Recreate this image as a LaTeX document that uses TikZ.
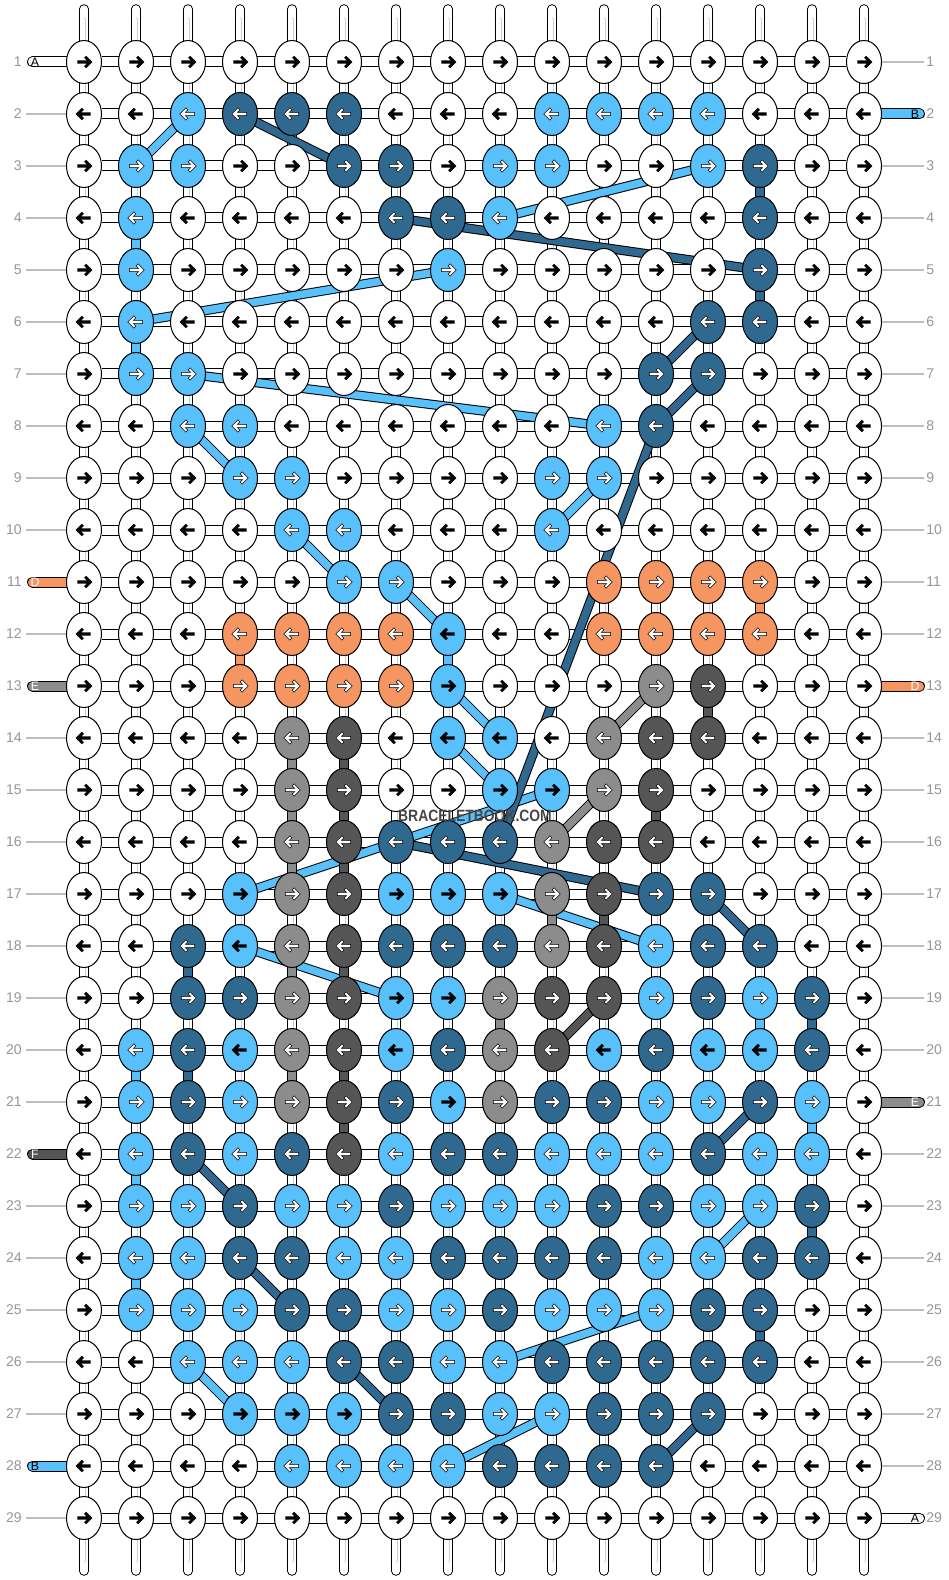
\documentclass[tikz,border=0pt]{standalone}
\usepackage{fontspec}
\setmainfont{Liberation Sans}
\usetikzlibrary{shapes.geometric}
\definecolor{BBwhite}{RGB}{255,255,255}
\definecolor{BBlight}{RGB}{88,192,250}
\definecolor{BBdark}{RGB}{47,105,143}
\definecolor{BBorange}{RGB}{244,149,98}
\definecolor{BBgray}{RGB}{140,140,140}
\definecolor{BBcoal}{RGB}{85,85,85}
\definecolor{BBlabel}{RGB}{150,150,150}
\definecolor{BBline}{RGB}{190,190,190}
\definecolor{BBinner}{RGB}{205,205,205}
\definecolor{BBmark}{RGB}{70,70,70}
\pgfdeclarelayer{strings}
\pgfdeclarelayer{threads}
\pgfsetlayers{strings,threads,main}
\tikzset{
  knot/.style={ellipse, draw=black, line width=0.2mm, minimum width=7mm, minimum height=8.6mm, inner sep=0pt},
  kW/.style={fill=BBwhite}, kL/.style={fill=BBlight}, kl/.style={fill=BBlight},
  kB/.style={fill=BBdark}, kO/.style={fill=BBorange}, kG/.style={fill=BBgray}, kK/.style={fill=BBcoal},
  aW/.style={fill=black}, al/.style={fill=black},
  aL/.style={fill=white, draw=black, line width=0.1mm},
  aB/.style={aL}, aO/.style={aL}, aG/.style={aL}, aK/.style={aL},
  arr/.pic={\path[pic actions] (-6,-1.4) -- (2.4,-1.4) -- (0.1,-3.7) -- (1.9,-5.5) -- (7.4,0) -- (1.9,5.5) -- (0.1,3.7) -- (2.4,1.4) -- (-6,1.4) -- cycle;},
  hstring/.style={draw=black, double=BBwhite, double distance=1.8mm, line width=0.2mm},
  vstring/.style={draw=black, double=BBwhite, double distance=1.5mm, line width=0.2mm, line cap=round,
    postaction={draw=BBinner, double=BBwhite, double distance=0.4mm, line width=0.1mm, shorten <=2mm, shorten >=2mm}},
  thread/.style={draw=black, double=#1, double distance=1.5mm, line width=0.2mm},
  labelline/.style={draw=BBline, line width=0.25mm},
  rowlabel/.style={text=BBlabel, font=\fontsize{8}{8}\selectfont, inner sep=0pt},
  tagtext/.style={font=\fontsize{7}{7}\selectfont, inner sep=0pt},
  watermark/.style={text=BBmark, font=\bfseries\fontsize{9.3}{10}\selectfont, inner sep=0pt}
}
\newcommand{\lefttag}[4]{
  \coordinate (lt-#1) at (32.5,{62+52*(#1-1)});
  \draw[hstring, double=#2, line cap=round] (lt-#1) -- (k-#1-1);
  \node[tagtext, text=#4] (ltext-#1) at (35,{62+52*(#1-1)}) {#3};
}
\newcommand{\righttag}[4]{
  \coordinate (rt-#1) at (919.5,{62+52*(#1-1)});
  \draw[hstring, double=#2, line cap=round] (k-#1-16) -- (rt-#1);
  \node[tagtext, text=#4] (rtext-#1) at (915,{62+52*(#1-1)}) {#3};
}

\begin{document}
\begin{tikzpicture}[x=0.2mm, y=-0.2mm]
\useasboundingbox (0,0) rectangle (948,1580);
%Knots
\foreach \r/\row in {
  1/{W,W,W,W,W,W,W,W,W,W,W,W,W,W,W,W},
  2/{W,W,L,B,B,B,W,W,W,L,L,L,L,W,W,W},
  3/{W,L,L,W,W,B,B,W,L,L,W,W,L,B,W,W},
  4/{W,L,W,W,W,W,B,B,L,W,W,W,W,B,W,W},
  5/{W,L,W,W,W,W,W,L,W,W,W,W,W,B,W,W},
  6/{W,L,W,W,W,W,W,W,W,W,W,W,B,B,W,W},
  7/{W,L,L,W,W,W,W,W,W,W,W,B,B,W,W,W},
  8/{W,W,L,L,W,W,W,W,W,W,L,B,W,W,W,W},
  9/{W,W,W,L,L,W,W,W,W,L,L,W,W,W,W,W},
  10/{W,W,W,W,L,L,W,W,W,L,W,W,W,W,W,W},
  11/{W,W,W,W,W,L,L,W,W,W,O,O,O,O,W,W},
  12/{W,W,W,O,O,O,O,l,W,W,O,O,O,O,W,W},
  13/{W,W,W,O,O,O,O,l,W,W,W,G,K,W,W,W},
  14/{W,W,W,W,G,K,W,l,l,W,G,K,K,W,W,W},
  15/{W,W,W,W,G,K,W,W,l,l,G,K,W,W,W,W},
  16/{W,W,W,W,G,K,B,B,B,G,K,K,W,W,W,W},
  17/{W,W,W,l,G,K,l,l,l,G,K,B,B,W,W,W},
  18/{W,W,B,l,G,K,B,B,B,G,K,L,B,B,W,W},
  19/{W,W,B,B,G,K,l,l,G,K,K,L,B,L,B,W},
  20/{W,L,B,l,G,K,l,B,G,K,l,B,l,l,B,W},
  21/{W,L,B,L,G,K,B,l,G,B,B,L,L,B,L,W},
  22/{W,L,B,L,B,K,L,B,B,L,L,L,B,L,L,W},
  23/{W,L,L,B,L,L,B,L,L,L,B,B,L,L,B,W},
  24/{W,L,L,B,B,L,L,B,B,B,B,L,L,B,B,W},
  25/{W,L,L,L,B,B,L,L,B,L,L,L,B,B,W,W},
  26/{W,W,L,L,L,B,B,L,L,B,B,B,B,B,W,W},
  27/{W,W,W,l,l,l,B,B,L,L,B,B,B,W,W,W},
  28/{W,W,W,W,L,L,L,L,B,B,B,B,W,W,W,W},
  29/{W,W,W,W,W,W,W,W,W,W,W,W,W,W,W,W}}{
  \pgfmathsetmacro{\dir}{2*mod(\r,2)-1}
  \foreach \c [count=\i] in \row {
    \node[knot, k\c] (k-\r-\i) at ({84+52*(\i-1)},{62+52*(\r-1)}) {};
    \pic[a\c, scale=1.12, xscale=\dir] at (k-\r-\i) {arr};
  }
}
%Row numbers
\foreach \r in {1,...,29} {
  \node[rowlabel, anchor=east] (ll-\r) at (22,{62+52*(\r-1)}) {\r};
  \node[rowlabel, anchor=west] (rl-\r) at (926,{62+52*(\r-1)}) {\r};
}
%Strings
\begin{pgfonlayer}{strings}
\fill[white] (0,0) rectangle (948,1580);
\coordinate (top) at (0,9);
\coordinate (bottom) at (0,1571);
\foreach \i in {1,...,16}
  \draw[vstring] (k-1-\i |- top) -- (k-29-\i |- bottom);
\foreach \r in {1,...,29}
  \draw[hstring] (k-\r-1) -- (k-\r-16);
\foreach \r in {2,3,4,5,6,7,8,9,10,12,14,15,16,17,18,19,20,21,23,24,25,26,27,29}
  \draw[labelline] (ll-\r.east) ++(4,0) -- (k-\r-1);
\foreach \r in {1,3,4,5,6,7,8,9,10,11,12,14,15,16,17,18,19,20,22,23,24,25,26,27,28}
  \draw[labelline] (rl-\r.west) ++(-2,0) -- (k-\r-16);
%Tags
\lefttag{1}{BBwhite}{A}{black}
\lefttag{11}{BBorange}{D}{white}
\lefttag{13}{BBgray}{E}{white}
\lefttag{22}{BBcoal}{F}{white}
\lefttag{28}{BBlight}{B}{black}
\righttag{2}{BBlight}{B}{black}
\righttag{13}{BBorange}{D}{white}
\righttag{21}{BBgray}{E}{white}
\righttag{29}{BBwhite}{A}{black}
\end{pgfonlayer}
%Threads
\begin{pgfonlayer}{threads}
\foreach \a/\b in {3-2/2-3, 4-9/3-13, 6-2/5-8, 7-3/8-11, 8-3/9-4, 10-10/9-11, 10-5/11-6,
    11-7/12-8, 13-8/14-9, 14-8/15-9, 17-4/15-10, 17-9/18-12, 18-4/19-7, 24-13/23-14,
    26-9/25-12, 26-3/27-4, 28-8/27-10, 4-2/5-2, 6-2/7-2, 12-8/13-8, 19-14/20-14,
    20-2/21-2, 21-15/22-15, 22-2/23-2, 24-2/25-2}
  \draw[thread=BBlight] (k-\a.center) -- (k-\b.center);
\foreach \a/\b in {2-4/3-6, 4-7/5-14, 6-13/7-12, 7-13/8-12, 8-12/16-9, 16-7/17-12,
    17-13/18-14, 21-14/22-13, 22-3/23-4, 24-4/25-5, 26-6/27-7, 28-12/27-13, 3-14/4-14,
    5-14/6-14, 18-3/19-3, 19-15/20-15, 20-3/21-3, 23-15/24-15, 25-14/26-14}
  \draw[thread=BBdark] (k-\a.center) -- (k-\b.center);
\foreach \a/\b in {11-14/12-14, 12-4/13-4}
  \draw[thread=BBorange] (k-\a.center) -- (k-\b.center);
\foreach \a/\b in {13-12/14-11, 15-11/16-10, 14-5/15-5, 15-5/16-5, 16-5/17-5, 18-5/19-5,
    20-5/21-5, 17-10/18-10, 19-9/20-9}
  \draw[thread=BBgray] (k-\a.center) -- (k-\b.center);
\foreach \a/\b in {19-11/20-10, 13-13/14-13, 14-6/15-6, 15-6/16-6, 16-6/17-6, 18-6/19-6,
    20-6/21-6, 21-6/22-6, 15-12/16-12, 17-11/18-11}
  \draw[thread=BBcoal] (k-\a.center) -- (k-\b.center);
\end{pgfonlayer}
%Logo
\node[watermark] (logo) at (475,816) {\scalebox{0.85}[1]{BRACELETBOOK.COM}};
\end{tikzpicture}
\end{document}
